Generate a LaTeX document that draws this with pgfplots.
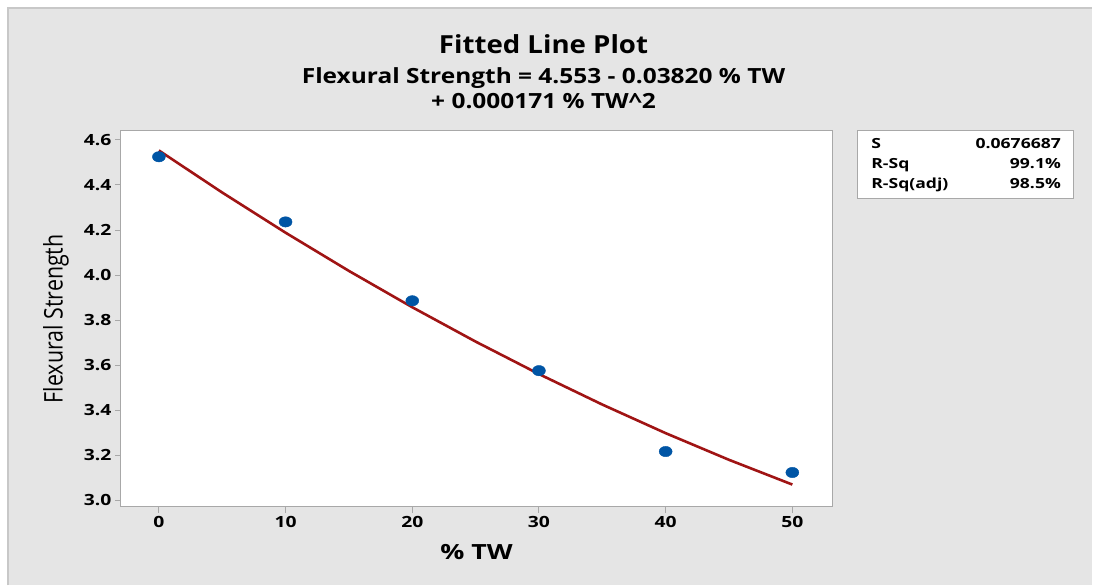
\documentclass[border=0pt]{standalone}
\usepackage{fontspec}
\setmainfont{Open Sans}
\usepackage{pgfplots}
\pgfplotsset{compat=1.18}
\definecolor{mtbgray}{HTML}{E5E5E5}
\definecolor{mtbedge}{HTML}{C8C8C8}
\definecolor{frame}{HTML}{A8A8A8}
\definecolor{fitred}{HTML}{A01414}
\definecolor{ptblue}{HTML}{0055A5}
% the reference is stretched sideways, so text is widened to match
\newcommand\wide[2]{\scalebox{#1}[1]{#2}}

% observed points
\pgfplotstableread{
tw   fs
0    4.525
10   4.236
20   3.886
30   3.576
40   3.217
50   3.124
}\obs
% fitted quadratic, values at 5 % steps
\pgfplotstableread{
tw   fit
0    4.5530
5    4.3663
10   4.1881
15   4.0185
20   3.8574
25   3.7049
30   3.5609
35   3.4255
40   3.2986
45   3.1803
50   3.0705
}\fit

\begin{document}
\begin{tikzpicture}[x=1bp,y=1bp]
% page: 1093 x 586 px, axis lower left at px (121,507)
\fill[white] (-121,-79) rectangle (972,507);
\fill[mtbgray] (-113,-79) rectangle (972,499);
\draw[mtbedge, line width=2bp] (-113,-79) -- (-113,499) -- (972,499);

\begin{axis}[
    scale only axis,
    width=712bp, height=376bp,
    xmin=-3, xmax=53.15,
    ymin=2.973, ymax=4.64,
    axis background/.style={fill=white},
    axis line style={frame, line width=1bp},
    tick style={frame, line width=1bp},
    tick align=outside,
    major tick length=6bp,
    xtick={0,10,20,30,40,50},
    ytick={3.0,3.2,3.4,3.6,3.8,4.0,4.2,4.4,4.6},
    /pgf/number format/assume math mode=true,
    xticklabel={\wide{1.25}{\pgfmathprintnumber{\tick}}},
    yticklabel={\wide{1.25}{\pgfmathprintnumber[fixed,fixed zerofill,precision=1]{\tick}}},
    ticklabel style={font=\fontsize{15.5}{18}\selectfont\bfseries, text=black},
    xtick pos=bottom, ytick pos=left,
    xlabel={\wide{1.28}{\% TW}},
    ylabel={\scalebox{1}[1.2]{Flexural Strength}},
    every axis x label/.style={at={(axis description cs:0.5,0)}, yshift=-53bp,
        anchor=base, font=\fontsize{21}{24}\selectfont\bfseries},
    every axis y label/.style={at={(axis description cs:-0.0913,0.5)}, rotate=90,
        anchor=center, font=\fontsize{21.5}{26}\selectfont},
]
\addplot[fitred, line width=2.6bp, no marks] table[x=tw, y=fit] {\fit};
\addplot[only marks, mark=*, mark size=5.2bp,
    mark options={fill=ptblue, draw=ptblue, xscale=1.25}] table[x=tw, y=fs] {\obs};
\end{axis}

% titles
\node[anchor=base, font=\fontsize{25}{30}\selectfont\bfseries] at (423,453)
    {\wide{1.11}{Fitted Line Plot}};
\node[anchor=base, font=\fontsize{21}{24}\selectfont\bfseries] at (423,423)
    {\wide{1.17}{Flexural Strength = 4.553 - 0.03820 \% TW}};
\node[anchor=base, font=\fontsize{21}{24}\selectfont\bfseries] at (423,398)
    {\wide{1.17}{+ 0.000171 \% TW\textasciicircum2}};

% summary box
\filldraw[fill=white, draw=frame, line width=1bp] (737,376) rectangle (953,308);
\begin{scope}[every node/.style={inner sep=0pt, font=\fontsize{14}{16}\selectfont\bfseries}]
\node[anchor=base west] at (751,358) {\wide{1.26}{S}};
\node[anchor=base east] at (941,358) {\wide{1.26}{0.0676687}};
\node[anchor=base west] at (751,338) {\wide{1.26}{R-Sq}};
\node[anchor=base east] at (941,338) {\wide{1.26}{99.1\%}};
\node[anchor=base west] at (751,318) {\wide{1.26}{R-Sq(adj)}};
\node[anchor=base east] at (941,318) {\wide{1.26}{98.5\%}};
\end{scope}
\end{tikzpicture}
\end{document}
